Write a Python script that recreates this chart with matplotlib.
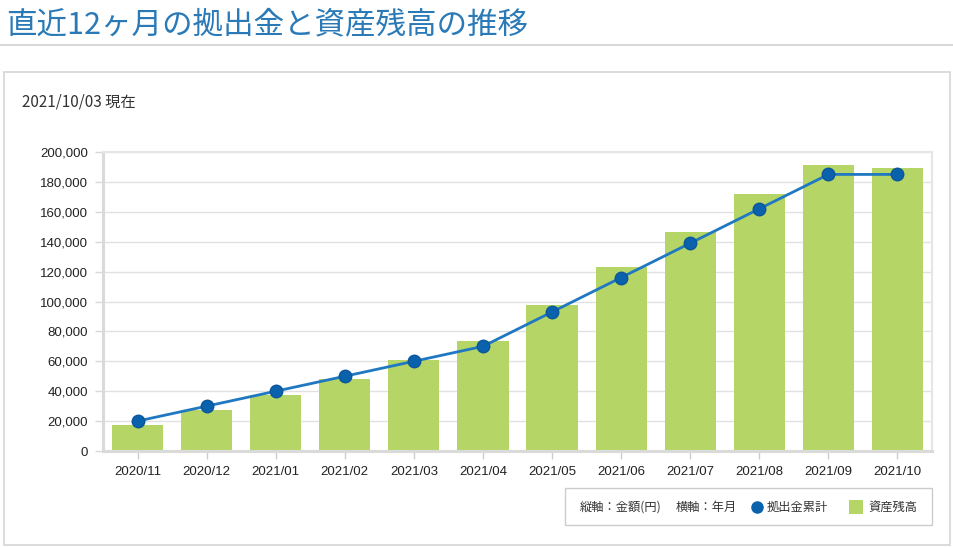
import matplotlib
matplotlib.use("Agg")
import matplotlib.pyplot as plt
from matplotlib.patches import Rectangle
from matplotlib.lines import Line2D
from matplotlib.ticker import FuncFormatter, MultipleLocator

plt.rcParams['font.family'] = ['Liberation Sans', 'Noto Sans CJK JP', 'DejaVu Sans']

months = ["2020/11", "2020/12", "2021/01", "2021/02", "2021/03", "2021/04",
          "2021/05", "2021/06", "2021/07", "2021/08", "2021/09", "2021/10"]
assets = [17500, 27500, 37500, 48000, 61000, 73500, 97500, 123000, 146500, 172000, 191000, 189000]
contrib = [20000, 30000, 40000, 50000, 60000, 70000, 93000, 116000, 139000, 162000, 185000, 185000]

title = "直近12ヶ月の拠出金と資産残高の推移"
subtitle = "2021/10/03 現在"
legend_axes = ["縦軸：金額(円)", "横軸：年月"]
legend_series = ["拠出金累計", "資産残高"]

W, H = 954, 547
fig = plt.figure(figsize=(W / 100, H / 100), dpi=100)
fig.patch.set_facecolor("white")

def fx(px):
    return px / W

def fy(py):
    return 1 - py / H

CJK = ['Noto Sans CJK JP', 'DejaVu Sans']
BLUE_T = "#2a7ab8"
GREEN = "#b5d567"
LINE = "#1f78c1"
MARK = "#0a62ad"
GRID = "#e1e1e1"

# title and underline
fig.text(fx(6), fy(25), title, family=CJK, fontsize=22, color=BLUE_T, va="center", ha="left")
fig.add_artist(Line2D([0, 1], [fy(45), fy(45)], color="#cfcfcf", lw=1.2, transform=fig.transFigure))

# panel border
fig.add_artist(Rectangle((fx(4), fy(545)), fx(950) - fx(4), fy(72) - fy(545), transform=fig.transFigure,
                         fill=False, edgecolor="#d6d6d6", lw=1.2))
fig.text(fx(22), fy(102), subtitle, family=CJK, fontsize=11, color="#333333", va="center", ha="left")

# axes
ax = fig.add_axes([fx(103), fy(451), fx(932) - fx(103), fy(152) - fy(451)])
x = list(range(len(months)))
ax.bar(x, assets, width=0.74, color=GREEN, zorder=2)
ax.plot(x, contrib, color=LINE, lw=2, marker="o", markersize=9, markerfacecolor=MARK,
        markeredgecolor="#0b569a", markeredgewidth=1, zorder=3)

ax.set_xlim(-0.5, len(months) - 0.5)
ax.set_ylim(0, 200000)
ax.yaxis.set_major_locator(MultipleLocator(20000))
ax.yaxis.set_major_formatter(FuncFormatter(lambda v, p: f"{int(v):,}"))
ax.set_xticks(x)
ax.set_xticklabels(months)
ax.grid(axis="y", color=GRID, lw=1, zorder=0)
ax.set_axisbelow(True)
for s in ["top", "right"]:
    ax.spines[s].set_color("#e6e6e6")
    ax.spines[s].set_linewidth(1.5)
for s in ["left", "bottom"]:
    ax.spines[s].set_color("#dadada")
    ax.spines[s].set_linewidth(2.2)
ax.tick_params(axis="y", length=6, width=1, color="#d8d8d8", labelsize=9.5, labelcolor="#222222", pad=5)
ax.tick_params(axis="x", length=6, width=1, color="#cccccc", labelsize=9.5, labelcolor="#222222", pad=5)
for t in ax.xaxis.get_ticklines():
    t.set_linestyle((0, (1, 1)))

# legend box
fig.add_artist(Rectangle((fx(565), fy(525)), fx(932) - fx(565), fy(488) - fy(525), transform=fig.transFigure,
                         fill=False, edgecolor="#cccccc", lw=1))
ly = fy(507)
fig.text(fx(580), ly, legend_axes[0], family=CJK, fontsize=8.8, color="#333333", va="center")
fig.text(fx(676), ly, legend_axes[1], family=CJK, fontsize=8.8, color="#333333", va="center")
fig.add_artist(Line2D([fx(757)], [ly], marker="o", markersize=8, color=MARK, transform=fig.transFigure, lw=0))
fig.text(fx(767), ly, legend_series[0], family=CJK, fontsize=8.8, color="#333333", va="center")
fig.add_artist(Rectangle((fx(849), fy(514)), fx(14), fy(500) - fy(514), transform=fig.transFigure,
                         color=GREEN, lw=0))
fig.text(fx(868), ly, legend_series[1], family=CJK, fontsize=8.8, color="#333333", va="center")

fig.savefig("out.png", dpi=100)
